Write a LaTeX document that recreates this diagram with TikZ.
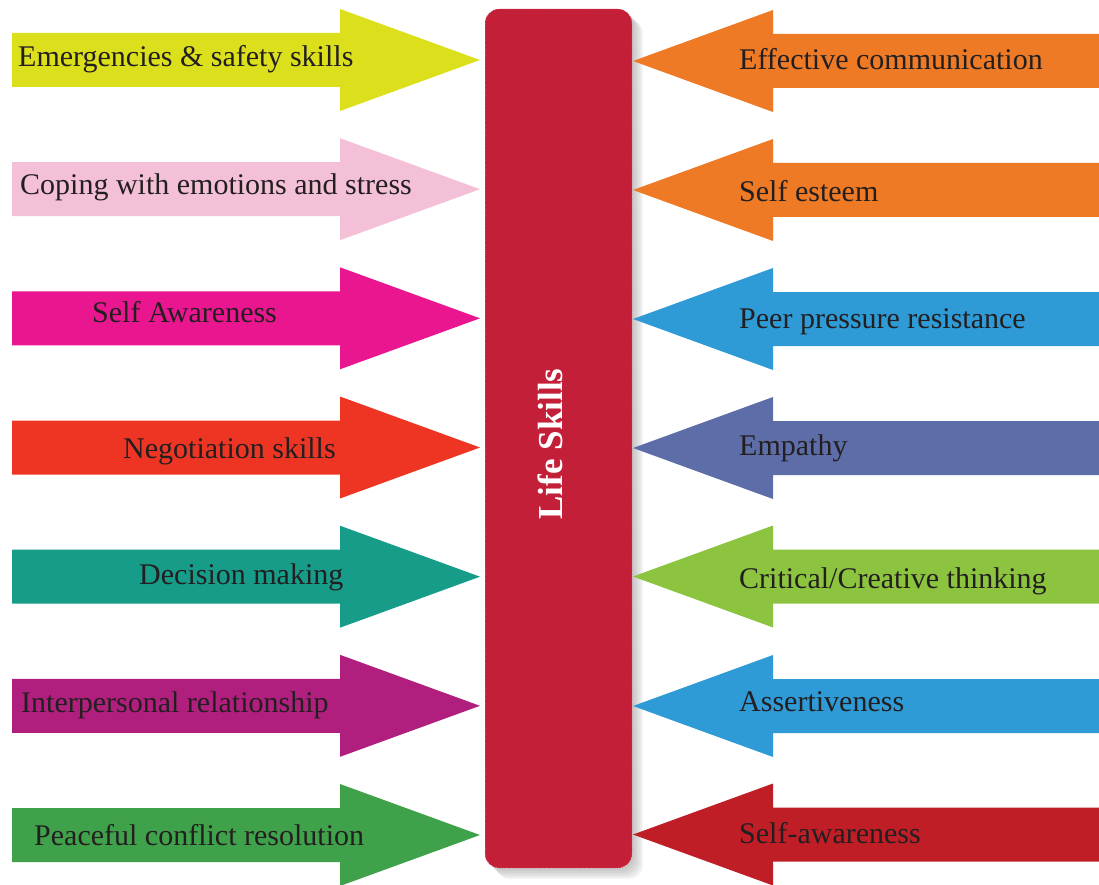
\documentclass[tikz,border=0pt]{standalone}
\usepackage{fontspec}
\setmainfont{Liberation Serif}
\definecolor{txt}{HTML}{231F20}
\definecolor{cA}{HTML}{DCDF1C}
\definecolor{cB}{HTML}{F4C0D8}
\definecolor{cC}{HTML}{E91690}
\definecolor{cD}{HTML}{EE3524}
\definecolor{cE}{HTML}{169C89}
\definecolor{cF}{HTML}{B01F7D}
\definecolor{cG}{HTML}{3FA24A}
\definecolor{rA}{HTML}{EE7A26}
\definecolor{rB}{HTML}{EE7A26}
\definecolor{rC}{HTML}{2E9AD6}
\definecolor{rD}{HTML}{5D6DA8}
\definecolor{rE}{HTML}{8CC43F}
\definecolor{rF}{HTML}{2E9AD6}
\definecolor{rG}{HTML}{BF1E27}
\definecolor{core}{HTML}{C41F38}
\begin{document}
\begin{tikzpicture}[x=1pt,y=-1pt,
  lbl/.style={anchor=base west, inner sep=0pt, text=txt, font=\fontsize{30}{34}\selectfont},
  corebox/.style={fill=core, rounded corners=14pt},
  shadowbox/.style={fill=black!45, fill opacity=0.09, rounded corners=14pt}]
\useasboundingbox (0,0) rectangle (1099,885);
% shadow of the central box
\foreach \i in {1,...,7}
  \fill[shadowbox] (485+1.6*\i,9+1.6*\i) rectangle (632+1.6*\i,868+1.6*\i);
% central box
\fill[corebox] (485,9) rectangle (632,868);
\draw[white, dotted, line width=0.5pt, rounded corners=14pt] (485,9) rectangle (632,868);
\node[rotate=90, text=white, font=\bfseries\fontsize{35}{40}\selectfont, inner sep=0pt] (core) at (550,444) {Life Skills};
% left arrows
\foreach \t/\c in {60/cA,189.2/cB,318.3/cC,447.5/cD,576.7/cE,705.8/cF,835/cG}
  \fill[\c] (12,\t-27) -- (340,\t-27) -- (340,\t-51) -- (480,\t) -- (340,\t+51) -- (340,\t+27) -- (12,\t+27) -- cycle;
% right arrows
\foreach \t/\c in {61/rA,190/rB,319/rC,448/rD,576.5/rE,706/rF,834.5/rG}
  \fill[\c] (633,\t) -- (773,\t-51) -- (773,\t-27) -- (1099,\t-27) -- (1099,\t+27) -- (773,\t+27) -- (773,\t+51) -- cycle;
% left labels
\node[lbl] (l1) at (18,67) {Emergencies \& safety skills};
\node[lbl] (l2) at (20,195) {Coping with emotions and stress};
\node[lbl] (l3) at (92,322) {Self Awareness};
\node[lbl] (l4) at (123,458) {Negotiation skills};
\node[lbl] (l5) at (139,584) {Decision making};
\node[lbl] (l6) at (21,712) {Interpersonal relationship};
\node[lbl] (l7) at (34,845) {Peaceful conflict resolution};
% right labels
\node[lbl] (r1) at (739,70) {Effective communication};
\node[lbl] (r2) at (739,202) {Self esteem};
\node[lbl] (r3) at (739,328) {Peer pressure resistance};
\node[lbl] (r4) at (739,455) {Empathy};
\node[lbl] (r5) at (739,588) {Critical/Creative thinking};
\node[lbl] (r6) at (739,711) {Assertiveness};
\node[lbl] (r7) at (739,843) {Self-awareness};
\end{tikzpicture}
\end{document}
